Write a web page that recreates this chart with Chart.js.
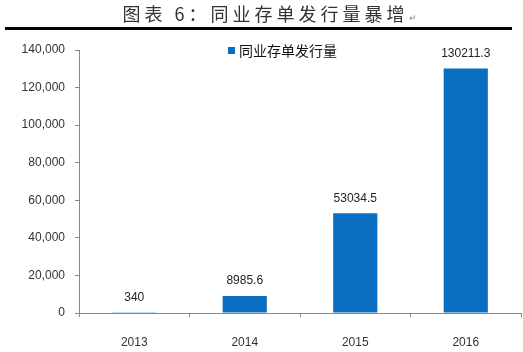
<!DOCTYPE html>
<html>
<head>
<meta charset="utf-8">
<script src="https://cdn.jsdelivr.net/npm/chart.js@4"></script>
<style>
	html, body { margin: 0; padding: 0; background: #fff; }
	#wrap { position: relative; width: 523px; height: 352px; overflow: hidden; }
	#title {
		position: absolute; left: 8px; top: 1px; width: 523px; text-align: center;
		font-family: "Noto Sans CJK SC", sans-serif; font-size: 18px; letter-spacing: 4px;
		color: #333; line-height: 24px; font-weight: 400;
	}
	#title .mark { font-size: 9px; color: #888; letter-spacing: 0; }
	#rule { position: absolute; left: 5px; top: 27px; width: 507px; height: 3px; background: #000; }
	#legend {
		position: absolute; left: 228px; top: 41px;
		font-family: "Noto Sans CJK SC", sans-serif; font-size: 14px; color: #111; line-height: 18px;
	}
	#legend .box { display: inline-block; width: 7px; height: 7px; background: #0A6EC0; margin-right: 4px; vertical-align: 2px; }
	canvas { position: absolute; left: 0; top: 0; }
</style>
</head>
<body>
<div id="wrap">
	<canvas id="chart" width="523" height="352"></canvas>
	<div id="title">图表 6：同业存单发行量暴增<span class="mark">↵</span></div>
	<div id="rule"></div>
	<div id="legend"><span class="box"></span>同业存单发行量</div>
</div>
<script>
const years = ['2013', '2014', '2015', '2016'];
const issuance = [340, 8985.6, 53034.5, 130211.3];
const seriesName = '同业存单发行量';

// value labels above each bar
const barLabels = {
	id: 'barLabels',
	afterDatasetsDraw(chart) {
		const ctx = chart.ctx;
		const meta = chart.getDatasetMeta(0);
		ctx.save();
		ctx.font = '12px "Liberation Sans", Arial, sans-serif';
		ctx.fillStyle = '#222';
		ctx.textAlign = 'center';
		ctx.textBaseline = 'middle';
		meta.data.forEach((bar, i) => {
			ctx.fillText(String(issuance[i]), bar.x, bar.y - 15);
		});
		ctx.restore();
	}
};

new Chart(document.getElementById('chart'), {
	type: 'bar',
	data: {
		labels: years,
		datasets: [
			{
				label: seriesName,
				data: issuance,
				backgroundColor: '#0A6EC0',
				categoryPercentage: 1,
				barPercentage: 0.4
			}
		]
	},
	options: {
		responsive: false,
		animation: false,
		layout: {
			padding: { top: 50, right: 2, left: 0, bottom: 0 }
		},
		scales: {
			y: {
				min: 0,
				max: 140000,
				ticks: {
					stepSize: 20000,
					color: '#333',
					padding: 10,
					font: { family: '"Liberation Sans", Arial, sans-serif', size: 12 },
					callback: v => v.toLocaleString('en-US')
				},
				grid: { drawOnChartArea: false, drawTicks: true, tickLength: 4, color: '#888' },
				border: { color: '#888' },
				afterFit(scale) { scale.width = 79; }
			},
			x: {
				offset: true,
				ticks: {
					color: '#333',
					padding: 18,
					font: { family: '"Liberation Sans", Arial, sans-serif', size: 12 }
				},
				grid: { offset: true, drawOnChartArea: false, drawTicks: true, tickLength: 4, color: '#888' },
				border: { color: '#888' },
				afterFit(scale) { scale.height = 39; }
			}
		},
		plugins: {
			legend: { display: false },
			tooltip: { enabled: false }
		}
	},
	plugins: [barLabels]
});
</script>
</body>
</html>
